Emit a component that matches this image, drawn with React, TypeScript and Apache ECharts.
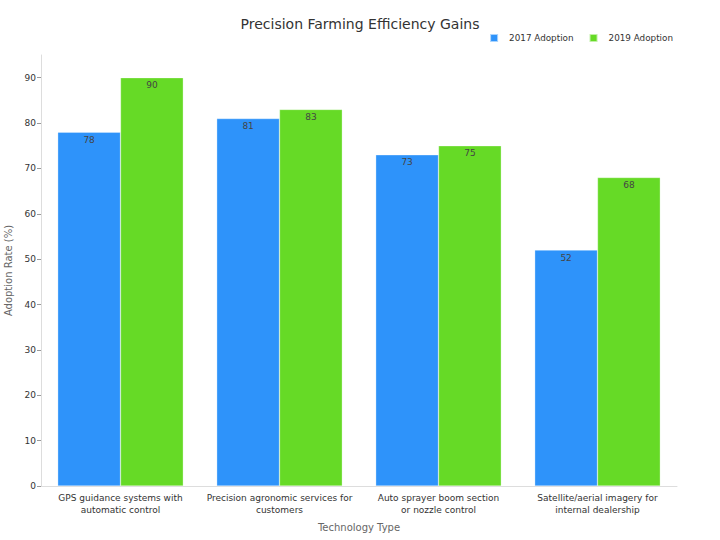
import React, { useEffect, useRef } from "react";
import * as echarts from "echarts";

const categories = [
  "GPS guidance systems with\nautomatic control",
  "Precision agronomic services for\ncustomers",
  "Auto sprayer boom section\nor nozzle control",
  "Satellite/aerial imagery for\ninternal dealership",
];
const adoption2017 = [78, 81, 73, 52];
const adoption2019 = [90, 83, 75, 68];
const seriesNames = ["2017 Adoption", "2019 Adoption"];
const yTicks = [0, 10, 20, 30, 40, 50, 60, 70, 80, 90];

const FONT = "DejaVu Sans";

export default function App() {
  const ref = useRef<HTMLDivElement>(null);
  useEffect(() => {
    if (!ref.current) return;
    const chart = echarts.init(ref.current, null, { renderer: "svg" });
    const labelCfg = {
      show: true,
      position: "insideTop",
      distance: 3,
      color: "#444",
      fontSize: 9,
      fontFamily: FONT,
    };
    chart.setOption({
      animation: false,
      textStyle: { fontFamily: FONT },
      title: {
        text: "Precision Farming Efficiency Gains",
        left: "center",
        top: 12,
        textStyle: { fontSize: 14, fontWeight: "normal", color: "#333", fontFamily: FONT },
      },
      legend: {
        data: seriesNames,
        right: 42,
        top: 28,
        itemWidth: 8,
        itemHeight: 8,
        itemGap: 15,
        icon: "rect",
        textStyle: { fontSize: 8.8, color: "#333", fontFamily: FONT, padding: [0, 0, 0, 6] },
      },
      grid: { left: 41, right: 43, top: 55, bottom: 54, outerBoundsMode: "none", containLabel: false },
      xAxis: {
        type: "category",
        data: categories,
        name: "Technology Type",
        nameLocation: "middle",
        nameGap: 36,
        nameTextStyle: { fontSize: 10, color: "#666", fontFamily: FONT },
        axisLine: { lineStyle: { color: "#ddd" } },
        axisTick: { alignWithLabel: true, length: 4, lineStyle: { color: "#999" } },
        axisLabel: { fontSize: 9, color: "#333", lineHeight: 12, interval: 0, margin: 6, fontFamily: FONT },
      },
      yAxis: {
        type: "value",
        min: 0,
        max: 95,
        interval: 10,
        name: "Adoption Rate (%)",
        nameLocation: "middle",
        nameGap: 24,
        nameTextStyle: { fontSize: 10, color: "#666", fontFamily: FONT },
        axisLine: { show: true, lineStyle: { color: "#ddd" } },
        axisTick: { show: true, length: 4, lineStyle: { color: "#999" }, customValues: yTicks },
        axisLabel: { fontSize: 9, color: "#333", margin: 5, fontFamily: FONT, customValues: yTicks },
        splitLine: { show: false },
      },
      series: [
        {
          name: seriesNames[0],
          type: "bar",
          data: adoption2017,
          barGap: "0%",
          barCategoryGap: "21%",
          itemStyle: { color: "#2E93FA", borderColor: "rgba(255,255,255,0.6)", borderWidth: 0.5 },
          label: labelCfg,
        },
        {
          name: seriesNames[1],
          type: "bar",
          data: adoption2019,
          barGap: "0%",
          barCategoryGap: "21%",
          itemStyle: { color: "#66DA26", borderColor: "rgba(255,255,255,0.6)", borderWidth: 0.5 },
          label: labelCfg,
        },
      ],
    });
    return () => chart.dispose();
  }, []);
  return (
    <div
      ref={ref}
      style={{ position: "absolute", left: 0, top: 0, width: 720, height: 540 }}
    />
  );
}
